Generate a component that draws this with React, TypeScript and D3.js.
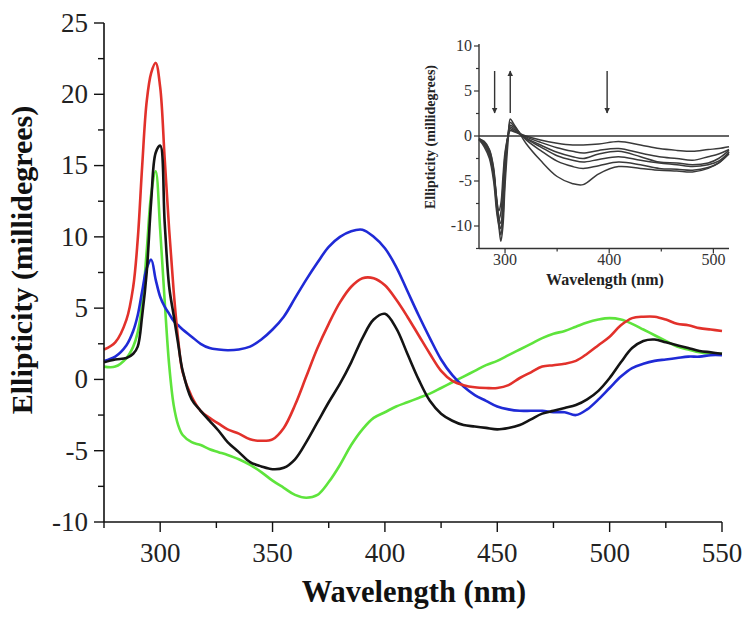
import React from "react";
import * as d3 from "d3";

// ---------- Main chart data ----------
const wavelengths = [275, 280, 285, 288, 290, 292, 294, 296, 298, 300, 302, 304, 306, 308, 310, 314, 318, 322, 326, 330, 335, 340, 345, 350, 355, 360, 365, 370, 375, 380, 385, 390, 395, 400, 405, 410, 415, 420, 425, 430, 435, 440, 445, 450, 455, 460, 465, 470, 475, 480, 485, 490, 495, 500, 505, 510, 515, 520, 525, 530, 535, 540, 545, 550];

const redValues = [2.1, 2.6, 4.2, 6.5, 9.8, 15, 19.5, 21.5, 22.2, 20.5, 15.5, 10.5, 6.2, 2.8, 0.5, -1.2, -2.2, -2.7, -3.1, -3.5, -3.8, -4.2, -4.3, -4.2, -3.4, -1.8, 0.2, 2.2, 3.9, 5.4, 6.5, 7.1, 7.1, 6.6, 5.6, 4.4, 3.1, 1.8, 0.6, -0.1, -0.4, -0.55, -0.6, -0.6, -0.4, 0.1, 0.5, 0.9, 1.0, 1.1, 1.3, 1.8, 2.4, 3.0, 3.8, 4.3, 4.4, 4.4, 4.2, 3.9, 3.8, 3.6, 3.5, 3.4];

const blackValues = [1.2, 1.4, 1.5, 1.8, 2.3, 4.5, 7.5, 12.5, 15.9, 16.4, 11, 6.5, 4.5, 2.5, 0.6, -1.4, -2.2, -2.9, -3.6, -4.4, -5.1, -5.8, -6.1, -6.3, -6.2, -5.6, -4.4, -3.0, -1.6, -0.3, 1.2, 2.9, 4.2, 4.6, 3.6, 1.8, 0.0, -1.5, -2.4, -2.9, -3.2, -3.3, -3.4, -3.5, -3.4, -3.2, -2.8, -2.4, -2.2, -2.0, -1.8, -1.4, -0.8, 0.1, 1.2, 2.2, 2.7, 2.8, 2.6, 2.4, 2.2, 2.0, 1.9, 1.8];

const greenValues = [0.9, 0.9, 1.5, 2.3, 3.3, 5.3, 9, 13, 14.6, 10.5, 5.5, 1.0, -1.8, -3.2, -3.9, -4.4, -4.6, -4.9, -5.1, -5.3, -5.6, -6.0, -6.5, -7.1, -7.6, -8.1, -8.3, -8.1, -7.2, -6.0, -4.6, -3.5, -2.7, -2.3, -1.9, -1.6, -1.3, -1.0, -0.6, -0.2, 0.2, 0.6, 1.0, 1.3, 1.7, 2.1, 2.5, 2.9, 3.2, 3.4, 3.7, 4.0, 4.2, 4.3, 4.2, 3.9, 3.5, 3.1, 2.7, 2.3, 2.1, 1.9, 1.8, 1.8];

const blueValues = [1.3, 1.6, 2.4, 3.4, 4.5, 6.2, 7.8, 8.4, 7.0, 5.8, 5.1, 4.6, 4.1, 3.8, 3.5, 3.0, 2.5, 2.2, 2.1, 2.05, 2.1, 2.3, 2.8, 3.5, 4.4, 5.7, 7.0, 8.2, 9.3, 10.0, 10.4, 10.5, 10.0, 9.2, 7.9, 6.2, 4.5, 2.9, 1.4, 0.3, -0.5, -1.1, -1.5, -1.9, -2.1, -2.2, -2.2, -2.2, -2.3, -2.3, -2.5, -2.1, -1.4, -0.6, 0.2, 0.8, 1.1, 1.3, 1.4, 1.5, 1.6, 1.6, 1.7, 1.7];

const mainXTicks = [300, 350, 400, 450, 500, 550];
const mainYTicks = [-10, -5, 0, 5, 10, 15, 20, 25];

// ---------- Inset data ----------
const insetWavelengths = [275, 280, 285, 289, 292, 294, 296, 298, 300, 303, 305, 308, 313, 320, 334, 350, 365, 375, 390, 409, 430, 448, 465, 480, 495, 505, 515];

const insetA = [-0.3, -0.6, -1.5, -3.5, -7, -8.3, -7.5, -4.5, -1.8, 0, 0.6, 0.5, 0.3, 0, -0.45, -0.8, -1.0, -1.0, -0.9, -0.6, -1.0, -1.4, -1.6, -1.7, -1.5, -1.4, -1.2];
const insetB = [-0.3, -0.7, -1.6, -3.7, -7.5, -9.3, -8.5, -5.5, -2.2, 0, 0.8, 0.6, 0.3, -0.1, -0.7, -1.3, -1.7, -1.9, -1.6, -1.4, -1.9, -2.3, -2.5, -2.7, -2.3, -2.0, -1.5];
const insetC = [-0.3, -0.8, -1.8, -4, -7, -9, -9.7, -7, -3, 0.1, 1.0, 0.8, 0.3, -0.2, -1.0, -1.8, -2.3, -2.5, -2.0, -1.7, -2.3, -2.9, -3.0, -3.2, -3.0, -2.5, -1.6];
const insetD = [-0.3, -0.9, -2.0, -4.2, -7.5, -9.5, -10.3, -8, -3.8, 0.2, 1.2, 1.0, 0.4, -0.3, -1.2, -2.2, -2.7, -2.9, -2.6, -2.3, -2.7, -3.0, -3.2, -3.4, -3.2, -2.8, -1.8];
const insetE = [-0.4, -1.0, -2.2, -4.5, -8, -9.8, -11, -9, -4.5, 0.3, 1.5, 1.2, 0.5, -0.4, -1.6, -2.8, -3.4, -3.6, -3.3, -2.9, -3.2, -3.6, -3.7, -3.8, -3.5, -3.0, -2.0];
const insetF = [-0.4, -1.2, -2.5, -5, -8.5, -10, -11.7, -10, -5.5, -0.5, 1.9, 1.4, 0.5, -0.8, -2.7, -4.5, -5.3, -5.4, -4.2, -3.4, -3.6, -3.8, -3.9, -4.0, -3.6, -3.0, -1.8];

const insetXTicks = [300, 400, 500];
const insetYTicks = [-10, -5, 0, 5, 10];
const insetArrowsDown = [290, 398];
const insetArrowsUp = [305];

const FONT = "'Liberation Serif', 'Times New Roman', Times, serif";

export default function App() {
  // main scales
  const x = d3.scaleLinear().domain([275, 550]).range([104, 722]);
  const y = d3.scaleLinear().domain([-10, 25]).range([522, 23]);

  const line = d3
    .line<[number, number]>()
    .x((d) => x(d[0]))
    .y((d) => y(d[1]))
    .curve(d3.curveCatmullRom.alpha(0.5));

  const series = [
    { vals: greenValues, color: "#5ee43c" },
    { vals: blueValues, color: "#1f2ad6" },
    { vals: redValues, color: "#e2312b" },
    { vals: blackValues, color: "#141414" },
  ];

  const xMinor = d3.range(275, 551, 25);
  const yMinor = d3.range(-10, 25.01, 2.5);

  // inset scales
  const ix = d3.scaleLinear().domain([275, 515]).range([479, 729]);
  const iy = d3.scaleLinear().domain([-12.5, 10]).range([248.5, 46]);
  const iline = d3
    .line<[number, number]>()
    .x((d) => ix(d[0]))
    .y((d) => iy(d[1]))
    .curve(d3.curveCatmullRom.alpha(0.5));
  const insetSeries = [insetA, insetB, insetC, insetD, insetE, insetF];
  const ixMinor = [350, 450];
  const iyMinor = d3.range(-12.5, 10.01, 2.5);
  const ink = "#333";

  return (
    <svg
      width={750}
      height={626}
      style={{ position: "absolute", left: 0, top: 0, background: "#fff" }}
      fontFamily={FONT}
    >
      <defs>
        <marker id="ah" viewBox="0 0 10 10" refX="9" refY="5" markerWidth="4" markerHeight="5" orient="auto">
          <path d="M0,0 L10,5 L0,10 z" fill={ink} />
        </marker>
      </defs>
      <rect x={0} y={0} width={750} height={626} fill="#fff" />

      {/* main curves */}
      {series.map((s, i) => (
        <path
          key={i}
          d={line(wavelengths.map((w, j) => [w, s.vals[j]] as [number, number])) || ""}
          fill="none"
          stroke={s.color}
          strokeWidth={2.6}
          strokeLinejoin="round"
        />
      ))}

      {/* main axes */}
      <line x1={x(275)} x2={x(550)} y1={y(-10)} y2={y(-10)} stroke="#111" strokeWidth={1.6} />
      <line x1={x(275)} x2={x(275)} y1={y(-10)} y2={y(25)} stroke="#111" strokeWidth={1.6} />
      {xMinor.map((t) => (
        <line
          key={"xm" + t}
          x1={x(t)}
          x2={x(t)}
          y1={y(-10)}
          y2={y(-10) + (t % 50 === 0 ? 10 : 6)}
          stroke="#111"
          strokeWidth={1.4}
        />
      ))}
      {yMinor.map((t) => (
        <line
          key={"ym" + t}
          x1={x(275) - (t % 5 === 0 ? 10 : 6)}
          x2={x(275)}
          y1={y(t)}
          y2={y(t)}
          stroke="#111"
          strokeWidth={1.4}
        />
      ))}
      {mainXTicks.map((t) => (
        <text key={"xt" + t} x={x(t)} y={562} textAnchor="middle" fontSize={27} fill="#222">
          {t}
        </text>
      ))}
      {mainYTicks.map((t) => (
        <text key={"yt" + t} x={88} y={y(t)} dy="0.33em" textAnchor="end" fontSize={27} fill="#222">
          {t}
        </text>
      ))}
      <text x={414} y={602} textAnchor="middle" fontSize={30.5} fontWeight="bold" fill="#111">
        Wavelength (nm)
      </text>
      <text
        transform="translate(32,260) rotate(-90)"
        textAnchor="middle"
        fontSize={30}
        fontWeight="bold"
        fill="#111"
      >
        Ellipticity (millidegrees)
      </text>

      {/* inset */}
      {insetSeries.map((vals, i) => (
        <path
          key={"in" + i}
          d={iline(insetWavelengths.map((w, j) => [w, vals[j]] as [number, number])) || ""}
          fill="none"
          stroke="#3a3a3a"
          strokeWidth={1.5}
          strokeLinejoin="round"
        />
      ))}
      <line x1={ix(275)} x2={ix(515)} y1={iy(0)} y2={iy(0)} stroke={ink} strokeWidth={1.6} />
      <line x1={ix(275)} x2={ix(515)} y1={iy(-12.5)} y2={iy(-12.5)} stroke={ink} strokeWidth={1.4} />
      <line x1={ix(275)} x2={ix(275)} y1={iy(-12.5)} y2={iy(10) - 2} stroke={ink} strokeWidth={1.4} />
      {insetXTicks.map((t) => (
        <line key={"ixt" + t} x1={ix(t)} x2={ix(t)} y1={iy(-12.5)} y2={iy(-12.5) + 5} stroke={ink} strokeWidth={1.2} />
      ))}
      {ixMinor.map((t) => (
        <line key={"ixm" + t} x1={ix(t)} x2={ix(t)} y1={iy(-12.5)} y2={iy(-12.5) + 3} stroke={ink} strokeWidth={1.2} />
      ))}
      {iyMinor.map((t) => (
        <line
          key={"iym" + t}
          x1={ix(275) - (Math.abs(t % 5) < 0.01 ? 5 : 3)}
          x2={ix(275)}
          y1={iy(t)}
          y2={iy(t)}
          stroke={ink}
          strokeWidth={1.2}
        />
      ))}
      {insetXTicks.map((t) => (
        <text key={"ixl" + t} x={ix(t)} y={265} textAnchor="middle" fontSize={16} fill={ink}>
          {t}
        </text>
      ))}
      {insetYTicks.map((t) => (
        <text key={"iyl" + t} x={472} y={iy(t)} dy="0.34em" textAnchor="end" fontSize={16} fill={ink}>
          {t}
        </text>
      ))}
      <text x={605} y={285} textAnchor="middle" fontSize={16} fontWeight="bold" fill="#222">
        Wavelength (nm)
      </text>
      <text
        transform="translate(435,137) rotate(-90)"
        textAnchor="middle"
        fontSize={14}
        fontWeight="bold"
        fill="#222"
      >
        Ellipticity (millidegrees)
      </text>
      {insetArrowsDown.map((w) => (
        <line key={"ad" + w} x1={ix(w)} x2={ix(w)} y1={71} y2={113} stroke={ink} strokeWidth={1.4} markerEnd="url(#ah)" />
      ))}
      {insetArrowsUp.map((w) => (
        <line key={"au" + w} x1={ix(w)} x2={ix(w)} y1={113} y2={71} stroke={ink} strokeWidth={1.4} markerEnd="url(#ah)" />
      ))}
    </svg>
  );
}
